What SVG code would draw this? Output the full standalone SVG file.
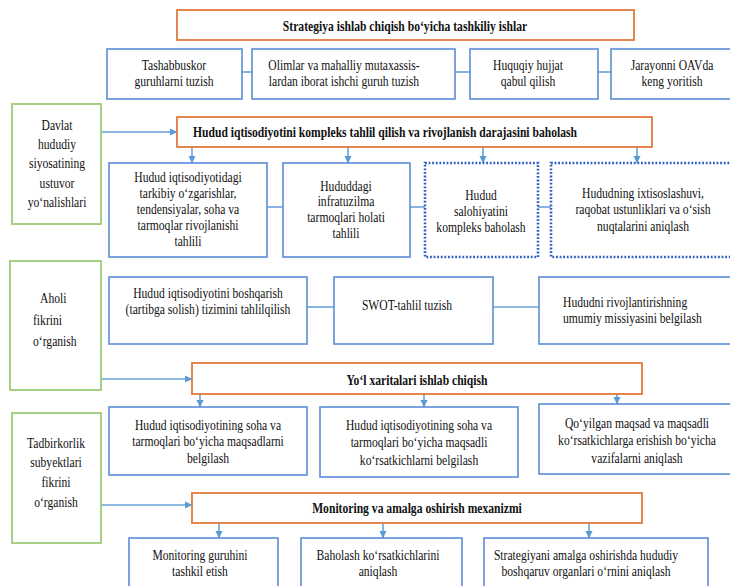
<svg xmlns="http://www.w3.org/2000/svg" width="730" height="586" viewBox="0 0 730 586" font-family="'Liberation Serif', serif">
<style>
.bx{fill:#fff;stroke:#5b8ed6;stroke-width:1.6}
.gr{fill:#fff;stroke:#9ccb78;stroke-width:1.8}
.or{fill:#fff;stroke:#e27b3c;stroke-width:1.8}
.dt{fill:#fff;stroke:#2a5cc4;stroke-width:2.6;stroke-dasharray:1.8 1.8}
.ln{fill:none;stroke:#6aa2dc;stroke-width:1.6}
.ar{fill:none;stroke:#6aa2dc;stroke-width:1.6;marker-end:url(#ah)}
text{font-family:'Liberation Serif',serif;font-size:15px;fill:#111;text-anchor:middle}
.b{font-weight:bold}
.s{text-anchor:start}
</style>
<defs>
<marker id="ah" markerWidth="8" markerHeight="8" refX="7" refY="4" orient="auto" markerUnits="userSpaceOnUse">
<path d="M0,0.5 L7.5,4 L0,7.5 Z" fill="#5b9bd5"/>
</marker>
</defs>
<rect width="730" height="586" fill="#fff"/>
<g id="connectors">
<line class="ln" x1="242" y1="72" x2="252" y2="72"/>
<line class="ln" x1="455" y1="72" x2="470" y2="72"/>
<line class="ln" x1="598" y1="72" x2="611" y2="72"/>
<line class="ar" x1="101" y1="132" x2="177" y2="132"/>
<line class="ar" x1="192" y1="147" x2="192" y2="163"/>
<line class="ar" x1="348" y1="147" x2="348" y2="163"/>
<line class="ar" x1="483" y1="147" x2="483" y2="163"/>
<line class="ar" x1="637" y1="147" x2="637" y2="163"/>
<line class="ln" x1="267" y1="207" x2="283" y2="207"/>
<line class="ln" x1="410" y1="207" x2="425" y2="207"/>
<line class="ln" x1="538" y1="207" x2="551" y2="207"/>
<line class="ln" x1="307" y1="307" x2="334" y2="307"/>
<line class="ln" x1="493" y1="307" x2="539" y2="307"/>
<line class="ar" x1="101" y1="379" x2="192" y2="379"/>
<line class="ar" x1="200" y1="394" x2="200" y2="407"/>
<line class="ar" x1="424" y1="394" x2="424" y2="407"/>
<line class="ar" x1="617" y1="394" x2="617" y2="404"/>
<line class="ar" x1="101" y1="505" x2="192" y2="505"/>
<line class="ar" x1="219" y1="523" x2="219" y2="538"/>
<line class="ar" x1="383" y1="523" x2="383" y2="538"/>
<line class="ar" x1="589" y1="523" x2="589" y2="538"/>
</g>
<g id="n-title1">
<rect class="or" x="177" y="10" width="457" height="30"/>
<text class="b" transform="translate(405 31) scale(.775 1)">Strategiya ishlab chiqish bo‘yicha tashkiliy ishlar</text>
</g>
<g id="n-a">
<rect class="bx" x="107" y="49" width="135" height="50"/>
<text transform="translate(174 69.5) scale(.775 1)"><tspan x="0">Tashabbuskor</tspan><tspan x="0" dy="17">guruhlarni tuzish</tspan></text>
</g>
<g id="n-b">
<rect class="bx" x="252" y="49" width="203" height="50"/>
<text transform="translate(344 69.5) scale(.775 1)"><tspan x="0">Olimlar va mahalliy mutaxassis-</tspan><tspan x="0" dy="17">lardan iborat ishchi guruh tuzish</tspan></text>
</g>
<g id="n-c">
<rect class="bx" x="470" y="49" width="128" height="50"/>
<text transform="translate(528 69.5) scale(.775 1)"><tspan x="0">Huquqiy hujjat</tspan><tspan x="0" dy="17">qabul qilish</tspan></text>
</g>
<g id="n-d">
<rect class="bx" x="611" y="49" width="125" height="50"/>
<text transform="translate(672 69.5) scale(.775 1)"><tspan x="0">Jarayonni OAVda</tspan><tspan x="0" dy="17">keng yoritish</tspan></text>
</g>
<g id="n-g1">
<rect class="gr" x="12" y="104" width="89" height="120"/>
<text transform="translate(57 129.5) scale(.775 1)"><tspan x="0">Davlat</tspan><tspan x="0" dy="19.5">hududiy</tspan><tspan x="0" dy="19.5">siyosatining</tspan><tspan x="0" dy="19.5">ustuvor</tspan><tspan x="0" dy="19.5">yo‘nalishlari</tspan></text>
</g>
<g id="n-title2">
<rect class="or" x="177" y="117" width="475" height="30"/>
<text class="b" transform="translate(385 137) scale(.775 1)">Hudud iqtisodiyotini kompleks tahlil qilish va rivojlanish darajasini baholash</text>
</g>
<g id="n-e">
<rect class="bx" x="109" y="163" width="158" height="94"/>
<text transform="translate(188 181.5) scale(.775 1)"><tspan x="0">Hudud iqtisodiyotidagi</tspan><tspan x="0" dy="16.2">tarkibiy o‘zgarishlar,</tspan><tspan x="0" dy="16.2">tendensiyalar, soha va</tspan><tspan x="0" dy="16.2">tarmoqlar rivojlanishi</tspan><tspan x="0" dy="16.2">tahlili</tspan></text>
</g>
<g id="n-f">
<rect class="bx" x="283" y="163" width="127" height="94"/>
<text transform="translate(346 190.5) scale(.775 1)"><tspan x="0">Hududdagi</tspan><tspan x="0" dy="16">infratuzilma</tspan><tspan x="0" dy="16">tarmoqlari holati</tspan><tspan x="0" dy="16">tahlili</tspan></text>
</g>
<g id="n-g">
<rect class="dt" x="425" y="163" width="113" height="94"/>
<text transform="translate(481 199.5) scale(.775 1)"><tspan x="0">Hudud</tspan><tspan x="0" dy="16.5">salohiyatini</tspan><tspan x="0" dy="16.5">kompleks baholash</tspan></text>
</g>
<g id="n-h">
<rect class="dt" x="551" y="163" width="185" height="94"/>
<text transform="translate(643 197.5) scale(.775 1)"><tspan x="0">Hududning ixtisoslashuvi,</tspan><tspan x="0" dy="17">raqobat ustunliklari va o‘sish</tspan><tspan x="0" dy="17">nuqtalarini aniqlash</tspan></text>
</g>
<g id="n-g2">
<rect class="gr" x="10" y="261" width="91" height="129"/>
<text class="s" transform="translate(40 302.5) scale(.775 1)">Aholi</text>
<text class="s" transform="translate(33 324.5) scale(.775 1)">fikrini</text>
<text class="s" transform="translate(33 345.5) scale(.775 1)">o‘rganish</text>
</g>
<g id="n-i">
<rect class="bx" x="109" y="277" width="198" height="67"/>
<text transform="translate(208 297.5) scale(.775 1)"><tspan x="0">Hudud iqtisodiyotini boshqarish</tspan><tspan x="0" dy="17">(tartibga solish) tizimini tahlilqilish</tspan></text>
</g>
<g id="n-j">
<rect class="bx" x="334" y="277" width="159" height="67"/>
<text transform="translate(407 309.5) scale(.775 1)">SWOT-tahlil tuzish</text>
</g>
<g id="n-k">
<rect class="bx" x="539" y="277" width="197" height="67"/>
<text class="s" transform="translate(563 306.5) scale(.775 1)"><tspan x="0">Hududni rivojlantirishning</tspan><tspan x="0" dy="16.5">umumiy missiyasini belgilash</tspan></text>
</g>
<g id="n-title3">
<rect class="or" x="192" y="363" width="450" height="31"/>
<text class="b" transform="translate(417 384.5) scale(.775 1)">Yo‘l xaritalari ishlab chiqish</text>
</g>
<g id="n-l">
<rect class="bx" x="109" y="407" width="198" height="68"/>
<text transform="translate(208 429.5) scale(.775 1)"><tspan x="0">Hudud iqtisodiyotining soha va</tspan><tspan x="0" dy="17">tarmoqlari bo‘yicha maqsadlarni</tspan><tspan x="0" dy="17">belgilash</tspan></text>
</g>
<g id="n-m">
<rect class="bx" x="320" y="407" width="198" height="70"/>
<text transform="translate(419 429.5) scale(.775 1)"><tspan x="0">Hudud iqtisodiyotining soha va</tspan><tspan x="0" dy="18">tarmoqlari bo‘yicha maqsadli</tspan><tspan x="0" dy="18">ko‘rsatkichlarni belgilash</tspan></text>
</g>
<g id="n-n">
<rect class="bx" x="539" y="404" width="197" height="70"/>
<text transform="translate(637 427.5) scale(.775 1)"><tspan x="0">Qo‘yilgan maqsad va maqsadli</tspan><tspan x="0" dy="18">ko‘rsatkichlarga erishish bo‘yicha</tspan><tspan x="0" dy="18">vazifalarni aniqlash</tspan></text>
</g>
<g id="n-g3">
<rect class="gr" x="12" y="413" width="89" height="130"/>
<text transform="translate(56 447.5) scale(.775 1)"><tspan x="0">Tadbirkorlik</tspan><tspan x="0" dy="19.7">subyektlari</tspan><tspan x="0" dy="19.7">fikrini</tspan><tspan x="0" dy="19.7">o‘rganish</tspan></text>
</g>
<g id="n-title4">
<rect class="or" x="192" y="493" width="450" height="30"/>
<text class="b" transform="translate(417 512.5) scale(.775 1)">Monitoring va amalga oshirish mexanizmi</text>
</g>
<g id="n-o">
<rect class="bx" x="129" y="538" width="149" height="60"/>
<text transform="translate(200 559.5) scale(.775 1)"><tspan x="0">Monitoring guruhini</tspan><tspan x="0" dy="17">tashkil etish</tspan></text>
</g>
<g id="n-p">
<rect class="bx" x="301" y="538" width="161" height="60"/>
<text transform="translate(378 559.5) scale(.775 1)"><tspan x="0">Baholash ko‘rsatkichlarini</tspan><tspan x="0" dy="17">aniqlash</tspan></text>
</g>
<g id="n-q">
<rect class="bx" x="484" y="538" width="224" height="60"/>
<text transform="translate(586 559.5) scale(.775 1)"><tspan x="0">Strategiyani amalga oshirishda hududiy</tspan><tspan x="0" dy="17">boshqaruv organlari o‘rnini aniqlash</tspan></text>
</g>
</svg>
